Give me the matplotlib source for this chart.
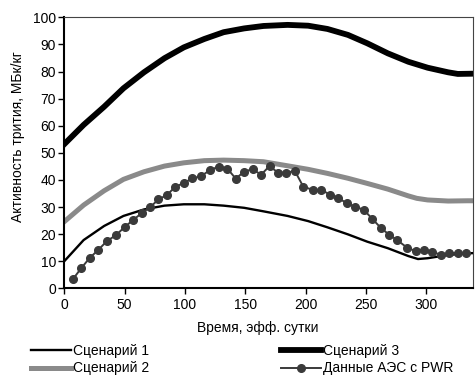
import matplotlib
matplotlib.use("Agg")
import matplotlib.pyplot as plt

plt.rcParams['font.family'] = ['Liberation Sans', 'DejaVu Sans']

# Scenario curves (x in eff. days, y in MBq/kg)
s1_x = [0, 16, 33, 49, 66, 83, 99, 116, 132, 149, 165, 185, 202, 218, 235, 251, 268, 285, 293, 301, 318, 334, 340]
s1_y = [10.0, 17.8, 23.0, 26.7, 29.1, 30.5, 31.0, 31.0, 30.5, 29.7, 28.4, 26.7, 24.8, 22.5, 19.9, 17.2, 14.8, 11.9, 10.8, 11.1, 12.3, 12.9, 13.0]

s2_x = [0, 16, 33, 49, 66, 83, 99, 116, 132, 149, 165, 185, 202, 218, 235, 251, 268, 285, 292, 301, 318, 334, 340]
s2_y = [24.6, 30.7, 36.0, 40.2, 43.0, 45.1, 46.3, 47.1, 47.3, 47.1, 46.7, 45.2, 43.9, 42.4, 40.6, 38.7, 36.6, 34.1, 33.2, 32.6, 32.2, 32.3, 32.3]

s3_x = [0, 16, 33, 49, 66, 83, 99, 116, 132, 149, 165, 185, 202, 218, 235, 251, 268, 285, 301, 318, 326, 340]
s3_y = [53.2, 60.3, 67.0, 73.8, 79.7, 84.9, 88.9, 92.0, 94.5, 95.9, 96.8, 97.2, 96.9, 95.7, 93.5, 90.4, 86.7, 83.6, 81.4, 79.7, 79.1, 79.2]

# Measured PWR data
d_x = [7, 14, 21, 28, 35, 43, 50, 57, 64, 71, 78, 85, 92, 99, 106, 113, 121, 128, 135, 142,
       149, 156, 163, 170, 177, 184, 191, 198, 206, 213, 220, 227, 234, 241, 248, 255, 262,
       269, 276, 284, 291, 298, 305, 312, 319, 326, 333]
d_y = [3.3, 7.4, 11.2, 14.1, 17.3, 19.7, 22.6, 25.2, 27.7, 29.9, 32.8, 34.4, 37.5, 38.8, 40.6,
       41.3, 43.7, 44.9, 44.2, 40.5, 43.0, 44.0, 41.9, 45.1, 42.7, 42.7, 43.3, 37.5, 36.3, 36.3,
       34.6, 33.3, 31.4, 30.1, 29.0, 25.7, 22.4, 19.8, 17.7, 15.0, 13.7, 14.3, 13.5, 12.3, 12.9,
       13.1, 12.9]

labels = ['Сценарий 1', 'Сценарий 2', 'Сценарий 3', 'Данные АЭС с PWR']
x_ticks = [0, 50, 100, 150, 200, 250, 300]
y_ticks = [0, 10, 20, 30, 40, 50, 60, 70, 80, 90, 100]

W, H = 476, 380
fig = plt.figure(figsize=(W / 100, H / 100), dpi=100)
ax = fig.add_axes([64.3 / W, 1 - 288.3 / H, (473.5 - 64.3) / W, (288.3 - 17.3) / H])

ax.plot(s1_x, s1_y, color='black', lw=1.7, label=labels[0], solid_joinstyle='round')
ax.plot(s2_x, s2_y, color='#8a8a8a', lw=3.6, label=labels[1], solid_joinstyle='round')
ax.plot(s3_x, s3_y, color='black', lw=4.2, label=labels[2], solid_joinstyle='round')
ax.plot(d_x, d_y, color='#3a3a3a', lw=1.4, marker='o', ms=5.5, label=labels[3])

ax.set_xlim(0, 339)
ax.set_ylim(0, 100)
ax.set_xticks(x_ticks)
ax.set_yticks(y_ticks)
ax.tick_params(axis='both', labelsize=10, direction='out', length=4, width=1, colors='black')
ax.tick_params(axis='x', pad=3)
ax.tick_params(axis='y', pad=2)

for s in ['left', 'bottom']:
    ax.spines[s].set_linewidth(1.5)
    ax.spines[s].set_color('black')
for s in ['top', 'right']:
    ax.spines[s].set_linewidth(0.8)
    ax.spines[s].set_color('#444444')

ax.set_xlabel('Время, эфф. сутки', fontsize=10)
ax.xaxis.set_label_coords((258 - 64.3) / 409.2, (288.3 - 328) / 271)
ax.xaxis.label.set_va('center')
ax.set_ylabel('Активность трития, МБк/кг', fontsize=10)
ax.yaxis.set_label_coords((18 - 64.3) / 409.2, (288.3 - 137) / 271)
ax.yaxis.label.set_va('center')

h = ax.get_legend_handles_labels()[0]
common = dict(loc='upper left', frameon=False, fontsize=10, borderpad=0, borderaxespad=0,
              handlelength=2.9, handletextpad=0.15, labelspacing=0.25)
fig.legend([h[0], h[1]], [labels[0], labels[1]], bbox_to_anchor=(31 / W, 1 - 344 / H), **common)
fig.legend([h[2], h[3]], [labels[2], labels[3]], bbox_to_anchor=(281 / W, 1 - 344 / H), **common)

fig.savefig('out.png', dpi=100)
